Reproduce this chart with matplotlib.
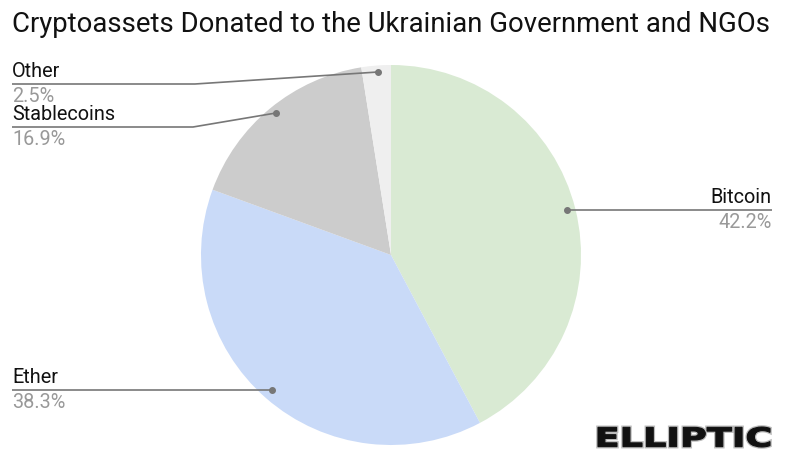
import matplotlib
matplotlib.use("Agg")
import matplotlib.pyplot as plt
from matplotlib.textpath import TextPath
from matplotlib.patches import PathPatch
from matplotlib.font_manager import FontProperties
from matplotlib.transforms import Affine2D

# data
labels = ["Bitcoin", "Ether", "Stablecoins", "Other"]
shares = [42.2, 38.3, 16.9, 2.5]
colors = ["#d9ead3", "#c9daf8", "#cccccc", "#efefef"]

W, H = 785, 468
fig = plt.figure(figsize=(W / 100, H / 100), dpi=100)
ax = fig.add_axes([0, 0, 1, 1])

def fy(y):
    # image y (top-down) -> axes y
    return H - y

cx, cy, r = 391, 255, 190
ax.pie(shares, colors=colors, startangle=90, counterclock=False,
       center=(cx, fy(cy)), radius=r, wedgeprops=dict(linewidth=0),
       frame=True)
ax.set_xlim(0, W)
ax.set_ylim(0, H)
ax.set_aspect("equal")
ax.axis("off")

line_c = "#777777"
pct_c = "#999999"
fs = 14.3

# leader lines in image pixels: dot first, label end last
leaders = {
    "Bitcoin": dict(pts=[(567, 210), (772, 210)], ha="right", tx=772),
    "Ether": dict(pts=[(272, 390), (12, 390)], ha="left", tx=12),
    "Stablecoins": dict(pts=[(276, 113), (193, 127), (12, 127)], ha="left", tx=12),
    "Other": dict(pts=[(378, 72), (195, 84), (12, 84)], ha="left", tx=12),
}

for lab, val in zip(labels, shares):
    d = leaders[lab]
    xs = [p[0] for p in d["pts"]]
    ys = [fy(p[1]) for p in d["pts"]]
    ax.plot(xs, ys, color=line_c, lw=1.2, solid_capstyle="butt")
    ax.plot(xs[0], ys[0], "o", color=line_c, ms=4)
    ly = d["pts"][-1][1]
    ax.text(d["tx"], fy(ly - 3), lab, ha=d["ha"], va="bottom",
            fontsize=fs, family="Roboto", color="#111111")
    ax.text(d["tx"], fy(ly + 3), f"{val}%", ha=d["ha"], va="top",
            fontsize=fs, family="Roboto", color=pct_c)

fig.text(12 / W, 1 - 25 / H, "Cryptoassets Donated to the Ukrainian Government and NGOs",
         ha="left", va="center", fontsize=19.8, family="Roboto", color="#111111")

# logo, fitted into its box
tp = TextPath((0, 0), "ELLIPTIC", size=20,
              prop=FontProperties(family="DejaVu Sans", weight="bold"))
bb = tp.get_extents()
x0, x1, y0, y1 = 598, 770, 427, 447
sx = (x1 - x0) / bb.width
sy = (y1 - y0) / bb.height
tr = Affine2D().translate(-bb.x0, -bb.y0).scale(sx, sy).translate(x0, fy(y1))
logo = tr.transform_path(tp)
ax.add_patch(PathPatch(logo, facecolor="#bbbbbb", edgecolor="#bbbbbb", lw=2.6,
                       joinstyle="miter"))
ax.add_patch(PathPatch(logo, facecolor="#111111", edgecolor="#111111", lw=0.8,
                       joinstyle="miter"))

fig.savefig("out.png", dpi=100)
